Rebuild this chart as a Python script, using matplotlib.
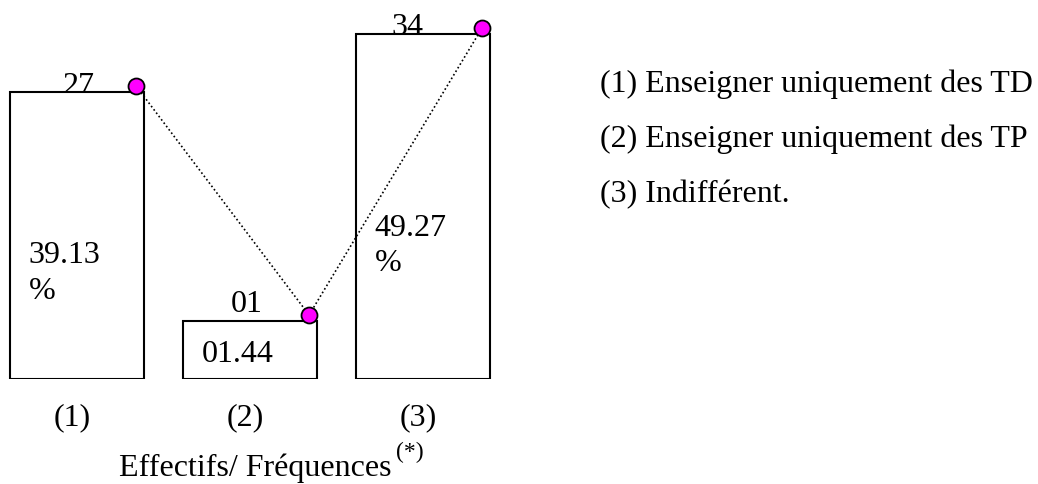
import matplotlib
matplotlib.use("Agg")
import matplotlib.pyplot as plt

# data
categories = ["(1)", "(2)", "(3)"]
effectifs = ["27", "01", "34"]
frequences = [["39.13", "%"], ["01.44"], ["49.27", "%"]]
# drawn bar heights (the drawing is not to scale)
heights = [28.7, 5.8, 34.5]
legend_lines = ["(1) Enseigner uniquement des TD",
                "(2) Enseigner uniquement des TP",
                "(3) Indifférent."]

plt.rcParams['font.family'] = ['Liberation Serif', 'DejaVu Serif']

fig = plt.figure(figsize=(10.38, 4.85), dpi=100)
ax = fig.add_axes([0, 105 / 485, 520 / 1038, 380 / 485])
ax.set_xlim(-77 / 173, (520 - 77) / 173)
ax.set_ylim(0, 38.0)
ax.axis('off')

x = list(range(len(categories)))
w = 0.775
ax.bar(x, heights, width=w, color='white', edgecolor='black', linewidth=1.5, zorder=1)

# dots at the top right corners, joined by a dotted line
dx = [xi + w / 2 - 0.046 for xi in x]
dy = [h + 0.6 for h in heights]
ax.plot(dx, dy, linestyle=(0, (1, 1.5)), color='black', linewidth=1.2, zorder=2)
ax.plot(dx, dy, linestyle='none', marker='o', markersize=11.5,
        markerfacecolor='#ff00ff', markeredgecolor='black', markeredgewidth=1.3, zorder=3)

fs = 23
# counts above the bars
lab_dx = [0.01, -0.02, -0.09]
lab_dy = [-0.05, 1.0, 0.0]
for i in x:
    ax.text(i + lab_dx[i], heights[i] + lab_dy[i], effectifs[i], ha='center', va='baseline',
            fontsize=fs, zorder=0)

# frequencies inside the bars (baselines of each line)
freq_x = [-0.28, -0.28, -0.28]
freq_y = [[11.7, 8.1], [1.75], [14.4, 10.9]]
for i in x:
    for txt, yy in zip(frequences[i], freq_y[i]):
        ax.text(i + freq_x[i], yy, txt, ha='left', va='baseline', fontsize=fs)

# category labels
for i in x:
    ax.text(i - 0.03, -3.75, categories[i], ha='center', va='center', fontsize=fs, clip_on=False)

fig.text(255 / 1038, 1 - 468 / 485, "Effectifs/ Fréquences", ha='center', va='center', fontsize=fs)
fig.text(396 / 1038, 1 - 452 / 485, "(*)", ha='left', va='center', fontsize=17)

for k, line in enumerate(legend_lines):
    fig.text(600 / 1038, 1 - (92 + 55 * k) / 485, line, ha='left', va='baseline', fontsize=fs)

fig.savefig("out.png", dpi=100)
